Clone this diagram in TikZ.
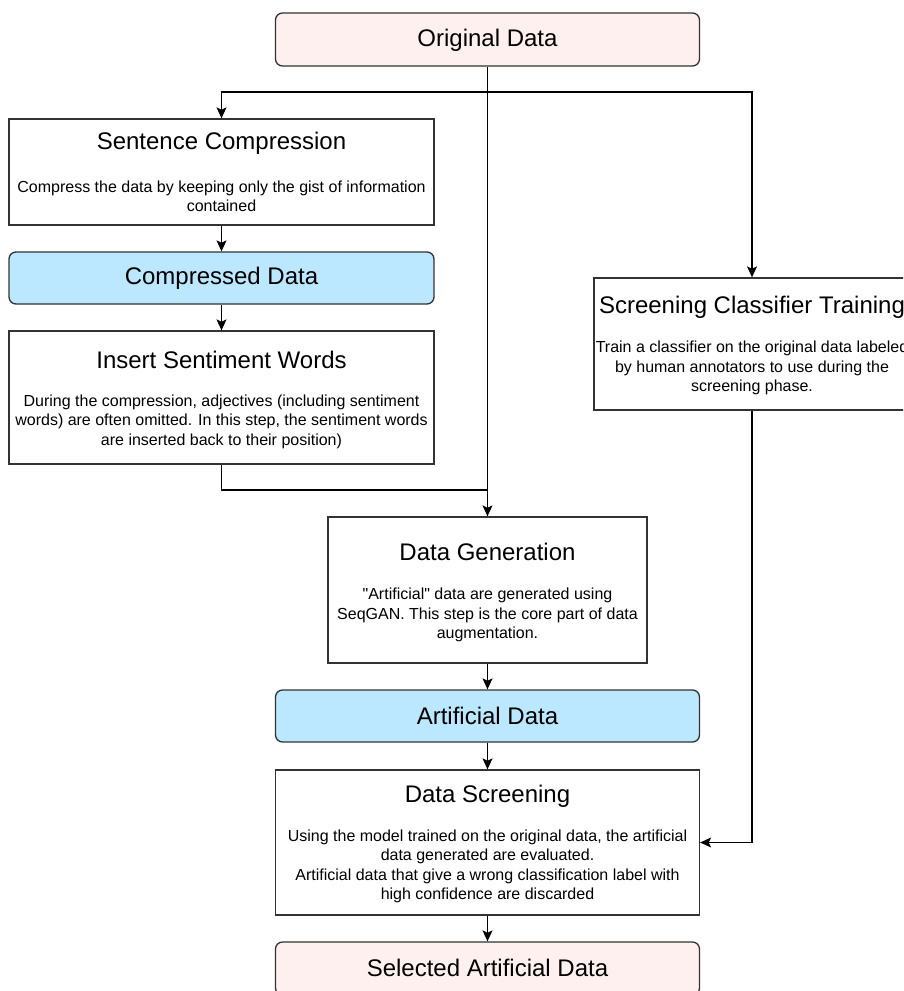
\documentclass[tikz,border=0pt]{standalone}
\usepackage{fontspec}
\setmainfont{Liberation Sans}[Ligatures=TeXOff]
\usetikzlibrary{arrows.meta}
\definecolor{pinkfill}{HTML}{FFF0F0}
\definecolor{bluefill}{HTML}{BBE7FF}
\definecolor{boxline}{HTML}{333333}
\tikzset{
  box/.style={draw=boxline, line width=1.3pt, fill=white, rectangle, inner sep=0pt},
  rbox/.style={box, rounded corners=7pt},
  ttl/.style={font=\fontsize{24}{28}\selectfont, inner sep=0pt, anchor=center},
  bdy/.style={font=\fontsize{16}{19.4}\selectfont, align=center, inner sep=0pt, anchor=center},
  wire/.style={draw=black, line width=1.1pt},
  conn/.style={wire, -{Stealth[length=11pt,width=10pt,inset=2.5pt]}}
}
\begin{document}
\begin{tikzpicture}[x=1pt,y=-1pt]
\useasboundingbox (0,0) rectangle (903,991);
\clip (0,0) rectangle (903,991);
% boxes
\node[rbox, fill=pinkfill, minimum width=424pt, minimum height=53pt] (orig) at (487.5,39.5) {};
\node[box, minimum width=425pt, minimum height=106pt] (sc) at (221.5,172) {};
\node[rbox, fill=bluefill, minimum width=425pt, minimum height=52pt] (cd) at (221.5,278) {};
\node[box, minimum width=425pt, minimum height=133pt] (isw) at (221.5,397.5) {};
\node[box, minimum width=316pt, minimum height=132pt] (sct) at (752,344) {};
\node[box, minimum width=319pt, minimum height=146pt] (dg) at (487.5,590) {};
\node[rbox, fill=bluefill, minimum width=424pt, minimum height=52pt] (ad) at (487.5,716) {};
\node[box, minimum width=424pt, minimum height=145pt] (ds) at (487.5,842.5) {};
\node[rbox, fill=pinkfill, minimum width=424pt, minimum height=53pt] (sad) at (487.5,968.5) {};
% texts
\node[ttl] (origt) at (487.5,40) {Original Data};
\node[ttl] (sct1) at (221.5,143) {Sentence Compression};
\node[bdy] (scb) at (221.5,196) {Compress the data by keeping only the gist of information\\contained};
\node[ttl] (cdt) at (221.5,278) {Compressed Data};
\node[ttl] (iswt) at (221.5,360) {Insert Sentiment Words};
\node[bdy] (iswb) at (221.5,421.5) {During the compression, adjectives (including sentiment\\words) are often omitted. In this step, the sentiment words\\are inserted back to their position)};
\node[ttl] (sctt) at (752,307) {Screening Classifier Training};
\node[bdy] (sctb) at (752,368) {Train a classifier on the original data labeled\\by human annotators to use during the\\screening phase.};
\node[ttl] (dgt) at (487.5,552) {Data Generation};
\node[bdy] (dgb) at (487.5,615) {"Artificial" data are generated using\\SeqGAN. This step is the core part of data\\augmentation.};
\node[ttl] (adt) at (487.5,716) {Artificial Data};
\node[ttl] (dst) at (487.5,796) {Data Screening};
\node[bdy] (dsb) at (487.5,866.5) {Using the model trained on the original data, the artificial\\data generated are evaluated.\\Artificial data that give a wrong classification label with\\high confidence are discarded};
\node[ttl] (sadt) at (487.5,968) {Selected Artificial Data};
% connectors
\coordinate (j1) at (487.5,92);
\coordinate (j2) at (487.5,490);
\draw[conn] (orig.south) -- (dg.north);
\draw[conn] (j1) -| (sc.north);
\draw[conn] (j1) -| (sct.north);
\draw[conn] (sc.south) -- (cd.north);
\draw[conn] (cd.south) -- (isw.north);
\draw[wire] (isw.south) |- (j2);
\draw[conn] (sct.south) |- (ds.east);
\draw[conn] (dg.south) -- (ad.north);
\draw[conn] (ad.south) -- (ds.north);
\draw[conn] (ds.south) -- (sad.north);
\end{tikzpicture}
\end{document}
